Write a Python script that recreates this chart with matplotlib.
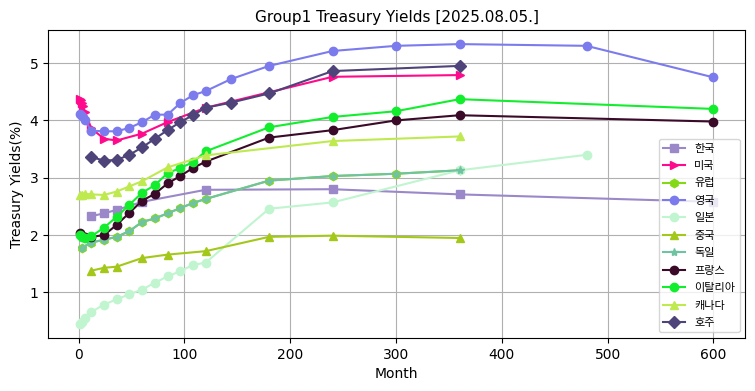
import matplotlib
matplotlib.use("Agg")
import matplotlib.pyplot as plt

plt.rcParams['font.family'] = ['DejaVu Sans']

title = "Group1 Treasury Yields [2025.08.05.]"

kr_m = [12, 24, 36, 60, 120, 240, 360, 600]
kr_y = [2.33, 2.38, 2.44, 2.58, 2.79, 2.80, 2.71, 2.58]

us_m = [1, 2, 3, 4, 6, 12, 24, 36, 60, 84, 120, 240, 360]
us_y = [4.38, 4.35, 4.30, 4.25, 4.15, 3.86, 3.68, 3.65, 3.77, 3.97, 4.22, 4.76, 4.79]

eu_m = [3, 12, 24, 36, 48, 60, 72, 84, 96, 108, 120, 180, 240, 300, 360]
eu_y = [1.78, 1.87, 1.92, 1.97, 2.07, 2.23, 2.29, 2.38, 2.47, 2.56, 2.63, 2.95, 3.03, 3.07, 3.13]

uk_m = [1, 3, 6, 12, 24, 36, 48, 60, 72, 84, 96, 108, 120, 144, 180, 240, 300, 360, 480, 600]
uk_y = [4.11, 4.08, 4.00, 3.82, 3.81, 3.81, 3.87, 3.97, 4.10, 4.10, 4.30, 4.44, 4.51, 4.72, 4.95, 5.21, 5.30, 5.33, 5.30, 4.75]

jp_m = [1, 3, 6, 12, 24, 36, 48, 60, 72, 84, 96, 108, 120, 180, 240, 360, 480]
jp_y = [0.45, 0.48, 0.56, 0.66, 0.79, 0.88, 0.97, 1.05, 1.17, 1.28, 1.37, 1.48, 1.52, 2.46, 2.57, 3.13, 3.40]

cn_m = [12, 24, 36, 60, 84, 120, 180, 240, 360]
cn_y = [1.38, 1.43, 1.45, 1.60, 1.66, 1.72, 1.97, 1.99, 1.95]

de_m = [3, 12, 24, 36, 48, 60, 72, 84, 96, 108, 120, 180, 240, 300, 360]
de_y = [1.78, 1.87, 1.92, 1.97, 2.07, 2.23, 2.29, 2.38, 2.47, 2.56, 2.63, 2.95, 3.03, 3.07, 3.13]

fr_m = [1, 3, 6, 12, 24, 36, 48, 60, 72, 84, 96, 108, 120, 180, 240, 300, 360, 600]
fr_y = [2.03, 1.99, 1.96, 1.97, 2.00, 2.18, 2.39, 2.60, 2.72, 2.90, 3.03, 3.17, 3.28, 3.70, 3.83, 4.00, 4.09, 3.98]

it_m = [1, 3, 6, 12, 24, 36, 48, 60, 72, 84, 96, 108, 120, 180, 240, 300, 360, 600]
it_y = [2.00, 1.97, 1.95, 1.98, 2.13, 2.32, 2.53, 2.74, 2.87, 3.08, 3.17, 3.27, 3.46, 3.88, 4.06, 4.16, 4.37, 4.20]

ca_m = [1, 3, 6, 12, 24, 36, 48, 60, 84, 120, 240, 360]
ca_y = [2.70, 2.70, 2.72, 2.71, 2.70, 2.76, 2.85, 2.94, 3.18, 3.39, 3.64, 3.72]

au_m = [12, 24, 36, 48, 60, 72, 84, 96, 108, 120, 144, 180, 240, 360]
au_y = [3.36, 3.30, 3.31, 3.40, 3.53, 3.68, 3.83, 3.97, 4.09, 4.22, 4.31, 4.47, 4.86, 4.95]

series = [
    ("한국", kr_m, kr_y, "#9A88C9", "s"),
    ("미국", us_m, us_y, "#FF0A8C", ">"),
    ("유럽", eu_m, eu_y, "#84D916", "h"),
    ("영국", uk_m, uk_y, "#7B7BEE", "o"),
    ("일본", jp_m, jp_y, "#C0F5D0", "o"),
    ("중국", cn_m, cn_y, "#A3C81A", "^"),
    ("독일", de_m, de_y, "#70C3A2", "*"),
    ("프랑스", fr_m, fr_y, "#3A0A28", "o"),
    ("이탈리아", it_m, it_y, "#12EE2E", "o"),
    ("캐나다", ca_m, ca_y, "#BEEA50", "^"),
    ("호주", au_m, au_y, "#4E4479", "D"),
]

fig = plt.figure(figsize=(7.55, 3.91), dpi=100)
ax = fig.add_axes([0.0636, 0.1355, 0.9234, 0.7875])
for name, m, y, c, mk in series:
    ax.plot(m, y, marker=mk, color=c, label=name, linewidth=1.5, markersize=6)

ax.set_title(title, fontsize=11)
ax.set_xlabel("Month", fontsize=10)
ax.set_ylabel("Treasury Yields(%)", fontsize=10)
ax.grid(True, color="#b0b0b0", linewidth=0.8)
ax.legend(loc="lower right", labelspacing=0.67,
          prop={'family': ['Noto Sans CJK KR', 'DejaVu Sans'], 'size': 8})
fig.savefig("out.png", dpi=100)
